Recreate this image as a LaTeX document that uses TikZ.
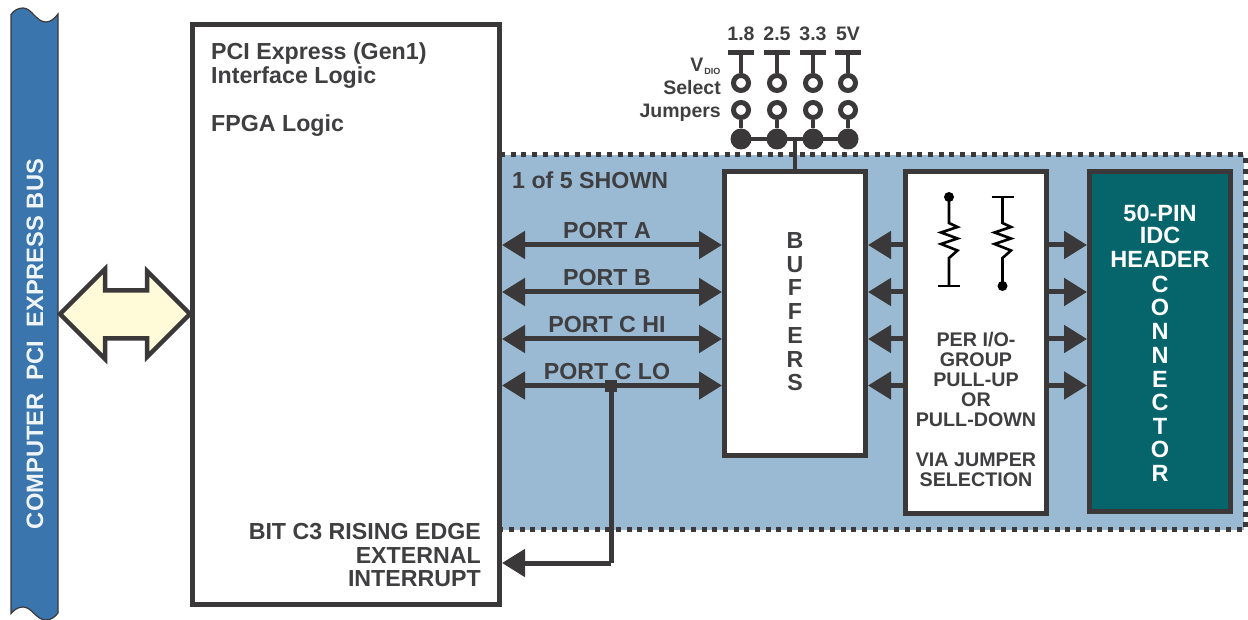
\documentclass[tikz,border=0pt]{standalone}
\usepackage{fontspec}
\setmainfont{Liberation Sans}
\usetikzlibrary{arrows.meta,calc}
\definecolor{ink}{HTML}{3A3839}
\definecolor{txt}{HTML}{3F3F41}
\definecolor{zoneblue}{HTML}{9AB9D3}
\definecolor{busblue}{HTML}{3A76AD}
\definecolor{teal}{HTML}{05656B}
\definecolor{cream}{HTML}{FFFBD9}
\newcommand{\fs}[1]{\fontsize{#1}{#1}\selectfont\bfseries}
\tikzset{
  x=1pt,y=-1pt,
  box/.style={draw=ink,line width=5pt,fill=white,anchor=north west,inner sep=0pt},
  lab/.style={text=txt,inner sep=0pt,font=\fs{23.2}},
  pul/.style={text=txt,inner sep=0pt,font=\fs{19.7}},
  con/.style={text=white,inner sep=0pt,font=\fs{23.5}},
  volt/.style={text=txt,inner sep=0pt,font=\fs{19.5}},
  arr/.style={draw=ink,line width=5pt,-{Triangle[length=23pt,width=27pt,fill=ink]}},
  dbl/.style={draw=ink,line width=5pt,{Triangle[length=23pt,width=27pt,fill=ink]}-{Triangle[length=23pt,width=27pt,fill=ink]}},
  wire/.style={draw=ink,line width=4.5pt},
  res/.style={draw=black,line width=2.6pt,line join=miter},
  ring/.style={circle,draw=ink,line width=5pt,fill=white,minimum size=15pt,inner sep=0pt},
  blob/.style={circle,fill=ink,minimum size=21pt,inner sep=0pt},
  rdot/.style={circle,fill=black,minimum size=10pt,inner sep=0pt},
  rbar/.style={draw=black,line width=2.6pt},
}
\begin{document}
\begin{tikzpicture}
\useasboundingbox (0,0) rectangle (1248,620);
% bus
\draw[fill=busblue,draw=ink,line width=1.2pt]
  (11,14.5) .. controls (14,10.5) and (18,8) .. (23,8)
  .. controls (32,8) and (36,22) .. (46,22)
  .. controls (51,22) and (55,18) .. (58,14)
  -- (58,613) .. controls (55,617) and (51,620) .. (46,620)
  .. controls (36,620) and (32,607) .. (23,607)
  .. controls (18,607) and (14,610) .. (11,613.5) -- cycle;
\node[rotate=90,text=white!92!busblue,inner sep=0pt,font=\fs{23.7}] (bustext) at (35,344) {COMPUTER\ \ PCI\ \ EXPRESS BUS};
% blue zone
\fill[zoneblue] (500,155) rectangle (1244,529.5);
\draw[ink,line width=5pt,dash pattern=on 5pt off 5.7pt] (500,154.5) -- (1245,154.5) -- (1245,529.5) -- (500,529.5);
% boxes
\node[box,minimum width=307.5pt,minimum height=579.5pt] (main) at (189.5,22) {};
\node[box,minimum width=141pt,minimum height=283pt] (buf) at (722,169.5) {};
\node[box,minimum width=141pt,minimum height=341pt] (per) at (903,169.5) {};
\node[box,fill=teal,minimum width=141pt,minimum height=339.5pt] (conn) at (1087,169.5) {};
% big arrow
\draw[fill=cream,draw=ink,line width=4.5pt,line join=miter,miter limit=10]
  (60,314) -- (105,269) -- (105,290.5) -- (147,290.5) -- (147,271) -- (190,314)
  -- (147,357) -- (147,338.5) -- (105,338.5) -- (105,359) -- cycle;
% main text
\node[lab,anchor=base west] (t1) at (211,60) {PCI Express (Gen1)};
\node[lab,anchor=base west] (t2) at (211,83.5) {Interface Logic};
\node[lab,anchor=base west] (t3) at (211,131.5) {FPGA Logic};
\node[lab,anchor=base east] (t4) at (481,539) {BIT C3 RISING EDGE};
\node[lab,anchor=base east] (t5) at (481,563) {EXTERNAL};
\node[lab,anchor=base east] (t6) at (481,586.5) {INTERRUPT};
\node[lab,anchor=base west] (t7) at (512,188.5) {1 of 5 SHOWN};
% ports
\coordinate (pa) at (0,245);
\coordinate (pb) at (0,292);
\coordinate (pc) at (0,339);
\coordinate (pd) at (0,385.5);
\foreach \p in {pa,pb,pc,pd}{
  \draw[dbl] (main.east |- \p) -- (buf.west |- \p);
  \draw[arr] (per.west |- \p) -- (buf.east |- \p);
  \draw[arr] (per.east |- \p) -- (conn.west |- \p);
}
\node[lab] (la) at (607,230.5) {PORT A};
\node[lab] (lb) at (607,277.5) {PORT B};
\node[lab] (lc) at (607,324.5) {PORT C HI};
\node[lab] (ld) at (607,371.5) {PORT C LO};
% interrupt
\node[fill=ink,minimum size=12pt,inner sep=0pt] (junc) at (611,386) {};
\coordinate (intr) at (611,563);
\draw[wire,line width=5pt] (junc.center) -- (intr);
\draw[arr] (intr) -- (main.east |- intr);
% buffers
\foreach \c/\y [count=\i] in {B/241,U/265,F/288,F/312,E/336,R/360,S/383}{
  \node[lab] (bf\i) at (795,\y) {\c};
}
% pull text
\foreach \s/\y [count=\i] in {{PER I/O-}/340,GROUP/360,PULL-UP/380,OR/400,PULL-DOWN/420,VIA JUMPER/460,SELECTION/480}{
  \node[pul] (pt\i) at (976,\y) {\s};
}
% connector text
\foreach \s/\y [count=\i] in {50-PIN/213,IDC/235,HEADER/259,C/284,O/307,N/331,N/355,E/379,C/402,T/426,O/449,R/473}{
  \node[con] (ct\i) at (1160,\y) {\s};
}
% jumpers
\foreach \x/\l [count=\i] in {741/1.8,777/2.5,813/3.3,848/5V}{
  \node[volt] (v\i) at (\x,34) {\l};
  \node[minimum width=26pt,minimum height=5pt,inner sep=0pt,fill=ink] (bar\i) at (\x,53) {};
  \node[ring] (ra\i) at (\x,83) {};
  \node[ring] (rb\i) at (\x,110) {};
  \node[blob] (bl\i) at (\x,139) {};
  \draw[wire] (bar\i.center) -- (ra\i);
  \draw[wire] (rb\i) -- (bl\i);
}
\draw[wire] (bl1.center) -- (bl4.center);
\coordinate (tap) at (795,139);
\draw[wire] (tap) -- (buf.north -| tap);
\node[volt,anchor=base east] (vd) at (721,71.5) {V\textsubscript{\kern1pt\fontsize{9}{9}\selectfont DIO}};
\node[volt,anchor=base east] (se) at (721,95) {Select};
\node[volt,anchor=base east] (ju) at (721,118) {Jumpers};
% resistors
\node[rdot] (r1t) at (949,197) {};
\coordinate (r1b) at (949,286);
\draw[res] (r1t.center) -- (949,223) -- (957.5,227) -- (941,232.5) -- (957.5,238.5) -- (941,244) -- (957.5,250.5) -- (949,258) -- (r1b);
\draw[rbar] ($(r1b)+(-11,0)$) -- ($(r1b)+(11,0)$);
\coordinate (r2t) at (1002.5,197);
\node[rdot] (r2b) at (1002.5,286) {};
\draw[res] (r2t) -- (1002.5,223) -- (1011,227) -- (994.5,232.5) -- (1011,238.5) -- (994.5,244) -- (1011,250.5) -- (1002.5,258) -- (r2b.center);
\draw[rbar] ($(r2t)+(-11,0)$) -- ($(r2t)+(11,0)$);
\end{tikzpicture}
\end{document}
